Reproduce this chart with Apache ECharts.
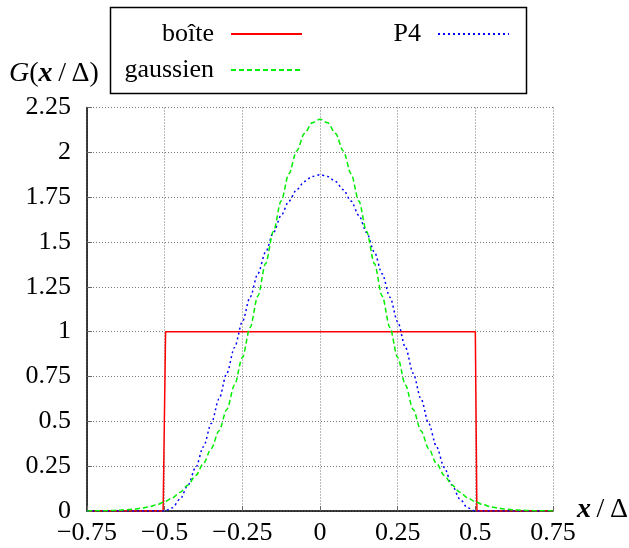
<!DOCTYPE html>
<html><head><meta charset="utf-8">
<script src="https://cdn.jsdelivr.net/npm/echarts@6/dist/echarts.min.js"></script>
<style>html,body{margin:0;padding:0;background:#fff}#c{width:629px;height:548px}</style>
</head><body><div id="c"></div>
<script>
const xs = [-0.75,-0.725,-0.7,-0.675,-0.65,-0.625,-0.6,-0.575,-0.55,-0.525,-0.5,-0.475,-0.45,-0.425,-0.4,-0.375,-0.35,-0.325,-0.3,-0.275,-0.25,-0.225,-0.2,-0.175,-0.15,-0.125,-0.1,-0.075,-0.05,-0.025,0,0.025,0.05,0.075,0.1,0.125,0.15,0.175,0.2,0.225,0.25,0.275,0.3,0.325,0.35,0.375,0.4,0.425,0.45,0.475,0.5,0.525,0.55,0.575,0.6,0.625,0.65,0.675,0.7,0.725,0.75];
const gaussien = [0.0005,0.0008,0.0014,0.0024,0.0039,0.0062,0.0099,0.0153,0.0234,0.035,0.0514,0.074,0.1048,0.1455,0.198,0.265,0.348,0.448,0.566,0.703,0.856,1.023,1.199,1.380,1.559,1.729,1.881,2.008,2.105,2.165,2.185,2.165,2.105,2.008,1.881,1.729,1.559,1.380,1.199,1.023,0.856,0.703,0.566,0.448,0.348,0.265,0.198,0.1455,0.1048,0.074,0.0514,0.035,0.0234,0.0153,0.0099,0.0062,0.0039,0.0024,0.0014,0.0008,0.0005];
const p4 = [0,0,0,0,0,0,0,0,0,0,0,0.0178,0.0677,0.1444,0.243,0.3589,0.4877,0.6253,0.768,0.9122,1.0547,1.1925,1.323,1.4438,1.5527,1.648,1.728,1.7916,1.8377,1.8656,1.875,1.8656,1.8377,1.7916,1.728,1.648,1.5527,1.4438,1.323,1.1925,1.0547,0.9122,0.768,0.6253,0.4877,0.3589,0.243,0.1444,0.0677,0.0178,0,0,0,0,0,0,0,0,0,0,0];
const boiteX = [-0.75,-0.505,-0.497,0.5,0.505,0.75];
const boiteY = [0,0,1,1,0,0];

const FONT = 'Liberation Serif';
const FS = 26;
const fmt = v => String(Math.round(v*100)/100).replace('-', '\u2212');
const chart = echarts.init(document.getElementById('c'), null, {renderer:'canvas'});
const zip = (a,b) => a.map((x,i)=>[x,b[i]]);
const legendBase = {
  orient:'horizontal', align:'right', itemWidth:71, itemHeight:14, itemGap:0, padding:0,
  textStyle:{fontFamily:FONT, fontSize:FS, color:'#000', padding:[0,12,0,0]},
  itemStyle:{opacity:0}, selectedMode:false
};
const nameRich = {
  i:{fontStyle:'italic', fontFamily:FONT, fontSize:28},
  b:{fontStyle:'italic', fontWeight:'bold', fontFamily:FONT, fontSize:28},
  n:{fontFamily:FONT, fontSize:28}
};
chart.setOption({
  animation:false,
  grid:{left:87, right:76, top:107.5, bottom:37, containLabel:false},
  xAxis:{type:'value', min:-0.75, max:0.75, interval:0.25,
    axisLine:{show:true, onZero:false, lineStyle:{color:'#000', width:1.5}},
    axisTick:{show:true, inside:true, length:5, lineStyle:{color:'#666'}},
    axisLabel:{fontFamily:FONT, fontSize:FS, color:'#000', margin:9, formatter:fmt},
    splitLine:{show:true, lineStyle:{color:'#777', type:[1,2], width:1}}},
  yAxis:{type:'value', min:0, max:2.25, interval:0.25,
    axisLine:{show:true, onZero:false, lineStyle:{color:'#000', width:1.5}},
    axisTick:{show:true, inside:true, length:5, lineStyle:{color:'#666'}},
    axisLabel:{fontFamily:FONT, fontSize:FS, color:'#000', margin:16, formatter:fmt},
    splitLine:{show:true, lineStyle:{color:'#777', type:[1,2], width:1}}},
  legend:[
    Object.assign({}, legendBase, {data:['boîte'], right:326, top:21}),
    Object.assign({}, legendBase, {data:['P4'], right:119, top:21}),
    Object.assign({}, legendBase, {data:['gaussien'], right:326, top:57})
  ],
  graphic:[
    {type:'rect', shape:{x:110.5, y:7.5, width:416, height:86}, style:{fill:'none', stroke:'#000', lineWidth:1.5}, z:100},
    {type:'text', left:9, top:60, style:{
      text:'{i|G}{n|(}{b|x}{n|\u2009/\u2009Δ)}', fill:'#000', rich:nameRich}},
    {type:'text', left:577, top:496, style:{
      text:'{b|x}{n|\u2009/\u2009Δ}', fill:'#000', rich:nameRich}}
  ],
  series:[
    {name:'boîte', type:'line', data:zip(boiteX, boiteY), symbol:'none', showSymbol:false,
      lineStyle:{color:'#ff0000', width:1.5}, itemStyle:{color:'#ff0000'}, z:3},
    {name:'P4', type:'line', data:zip(xs, p4), symbol:'none', showSymbol:false, smooth:0.3, smoothMonotone:'x',
      lineStyle:{color:'#0000ff', width:1.5, type:[2,3]}, itemStyle:{color:'#0000ff'}, z:4},
    {name:'gaussien', type:'line', data:zip(xs, gaussien), symbol:'none', showSymbol:false, smooth:0.3, smoothMonotone:'x',
      lineStyle:{color:'#00ee00', width:1.5, type:[5,3]}, itemStyle:{color:'#00ee00'}, z:5}
  ]
});
</script></body></html>
